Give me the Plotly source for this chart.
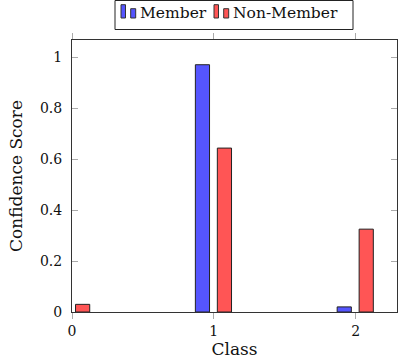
import plotly.graph_objects as go

classes = [0, 1, 2]
member = [0.0, 0.97, 0.02]
non_member = [0.03, 0.643, 0.325]
series_names = ["Member", "Non-Member"]
series_colors = ["#5555ff", "#ff5555"]
y_ticks = [0, 0.2, 0.4, 0.6, 0.8, 1]
y_tick_text = ["0", "0.2", "0.4", "0.6", "0.8", "1"]

FONT = "'DejaVu Serif', 'Liberation Serif', serif"
W, H = 398, 363
L, R, T, B = 72, 1, 40, 51
PW, PH = W - L - R, H - T - B


def px(x):
    return (x - L) / PW


def py(y):
    return (H - B - y) / PH


fig = go.Figure()
for name, vals, col, off in [(series_names[0], member, series_colors[0], -0.13),
                             (series_names[1], non_member, series_colors[1], 0.025)]:
    fig.add_trace(go.Bar(x=classes, y=vals, name=name, width=0.1, offset=off,
                         marker=dict(color=col, line=dict(color="#222222", width=1)),
                         showlegend=False))

# Manual legend (pgfplots-style box with bar icons)
shapes = [dict(type="rect", xref="paper", yref="paper",
               x0=px(115), x1=px(353), y0=py(29.5), y1=py(0.5),
               line=dict(color="#222222", width=1), fillcolor="white")]
annotations = []
legend_items = [(121, 138, series_names[0], series_colors[0]),
                (214, 231, series_names[1], series_colors[1])]
for ix, tx, name, col in legend_items:
    shapes.append(dict(type="rect", xref="paper", yref="paper",
                       x0=px(ix), x1=px(ix + 4.5), y0=py(18), y1=py(4.7),
                       line=dict(color="#333333", width=1), fillcolor=col))
    shapes.append(dict(type="rect", xref="paper", yref="paper",
                       x0=px(ix + 9.7), x1=px(ix + 14.7), y0=py(18), y1=py(8.7),
                       line=dict(color="#333333", width=1), fillcolor=col))
    annotations.append(dict(xref="paper", yref="paper", x=px(tx), y=py(13),
                            xanchor="left", yanchor="middle", showarrow=False,
                            text=name, font=dict(family=FONT, size=15.5, color="#111111")))

fig.update_layout(
    width=W, height=H,
    margin=dict(l=L, r=R, t=T, b=B, pad=0, autoexpand=False),
    plot_bgcolor="white", paper_bgcolor="white",
    barmode="overlay",
    font=dict(family=FONT, size=14, color="#111111"),
    showlegend=False,
    shapes=shapes,
    annotations=annotations,
    xaxis=dict(range=[0, 2.292], tickvals=[0, 1, 2], ticktext=["0", "1", "2"],
               ticks="outside", ticklen=6, tickcolor="#aaaaaa",
               showline=True, linecolor="#333333", linewidth=1, mirror="ticks",
               showgrid=False, zeroline=False, automargin=False,
               title=dict(text="Class", font=dict(size=17), standoff=4),
               tickfont=dict(size=14)),
    yaxis=dict(range=[0, 1.067], tickvals=y_ticks, ticktext=y_tick_text,
               ticks="inside", ticklen=6, tickcolor="#aaaaaa",
               showline=True, linecolor="#333333", linewidth=1, mirror="ticks",
               showgrid=False, zeroline=False, automargin=False,
               ticklabelstandoff=6,
               title=dict(text="Confidence Score", font=dict(size=17), standoff=12),
               tickfont=dict(size=14)),
)

fig.write_html("out.html", config={"displayModeBar": False},
               post_script="document.body.style.margin='0';")
